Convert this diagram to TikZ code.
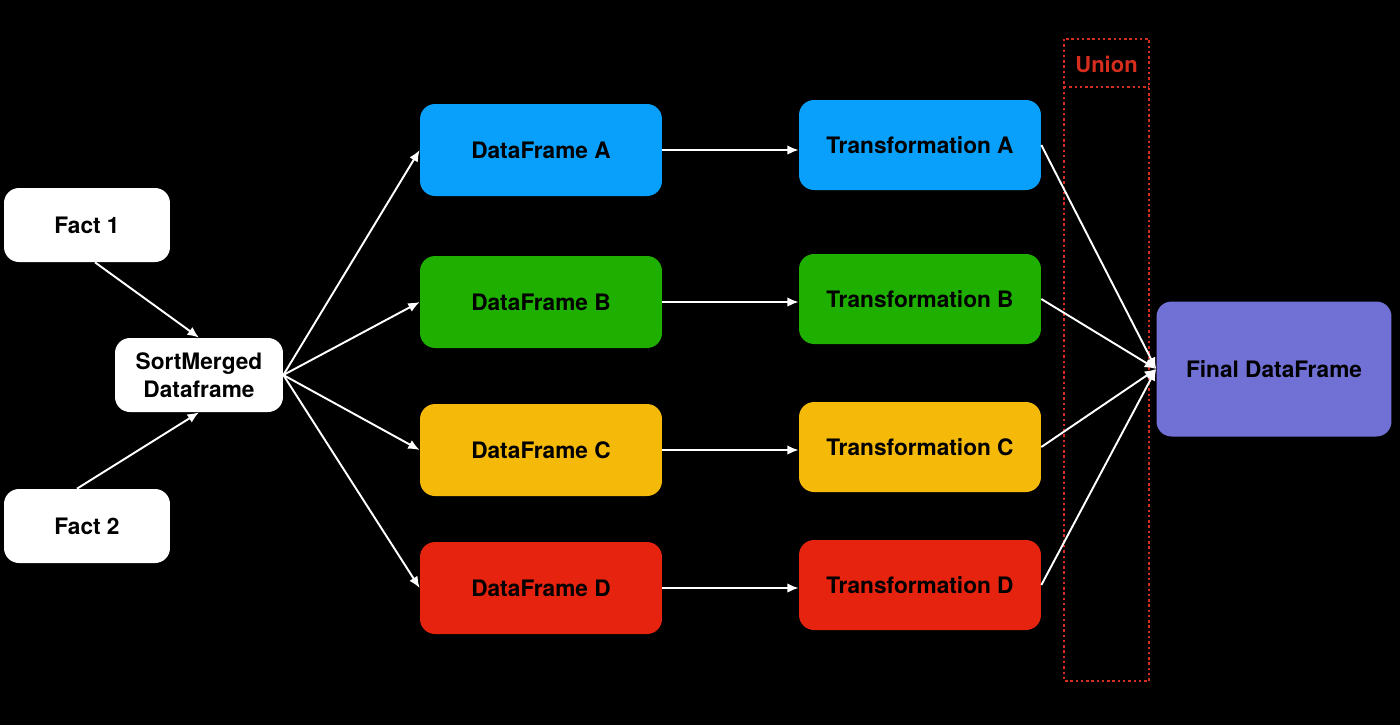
\documentclass[tikz,border=0pt]{standalone}
\usepackage{fontspec}
\setmainfont{TeX Gyre Heros}
\usetikzlibrary{positioning,arrows.meta}
\definecolor{bleu}{RGB}{8,160,250}
\definecolor{vert}{RGB}{30,175,0}
\definecolor{jaune}{RGB}{245,185,10}
\definecolor{rouge}{RGB}{230,35,15}
\definecolor{violet}{RGB}{112,112,213}
\definecolor{union}{RGB}{215,45,30}
\begin{document}
\begin{tikzpicture}[x=0.02cm,y=-0.02cm]
\tikzset{
	boite/.style={rounded corners=0.3cm, align=center, font=\fontsize{12.9}{16}\selectfont\bfseries, text=black},
	fait/.style={boite, fill=white, minimum width=3.32cm, minimum height=1.48cm},
	df/.style={boite, minimum width=4.84cm, minimum height=1.84cm},
	tr/.style={boite, minimum width=4.84cm, minimum height=1.8cm},
	fleche/.style={white, line width=1.1pt, -{Latex[length=6.5pt,width=5.5pt]}},
	pointille/.style={union, line width=1.5pt, dash pattern=on 1.4pt off 1.6pt}
}
  % fond noir
  \fill[black] (0,0) rectangle (1400,725);

  % les sources
  \node[fait] (fact1) at (87,225) {Fact 1};
  \node[fait] (fact2) at (87,526) {Fact 2};
  \node[fait, minimum width=3.36cm] (sm) at (199,375) {SortMerged\\Dataframe};

  % les dataframes
  \node[df, fill=bleu]  (dfa) at (541,150) {DataFrame A};
  \node[df, fill=vert]  (dfb) at (541,302) {DataFrame B};
  \node[df, fill=jaune] (dfc) at (541,450) {DataFrame C};
  \node[df, fill=rouge] (dfd) at (541,588) {DataFrame D};

  \node[tr, fill=bleu]  (tra) at (920,145) {Transformation A};
  \node[tr, fill=vert]  (trb) at (920,299) {Transformation B};
  \node[tr, fill=jaune] (trc) at (920,447) {Transformation C};
  \node[tr, fill=rouge] (trd) at (920,585) {Transformation D};

  \node[boite, fill=violet, minimum width=4.7cm, minimum height=2.7cm] (final) at (1274,369) {Final DataFrame};

  % la zone union
  \draw[pointille] (1064,39) rectangle (1149,681);
  \draw[pointille] (1064,87) -- (1149,87);
  \node[text=union, font=\fontsize{12.5}{15}\selectfont\bfseries] (union) at (1106.5,64) {Union};

  % les flèches
  \draw[fleche] (fact1.south) ++(8,0) -- (sm.north);
  \draw[fleche] (fact2.north) ++(-10,0) -- (sm.south);
  \foreach \d in {dfa,dfb,dfc,dfd}
    \draw[fleche] (sm.east) -- (\d.west);
  \draw[fleche] (dfa) -- (tra.west |- dfa);
  \draw[fleche] (dfb) -- (trb.west |- dfb);
  \draw[fleche] (dfc) -- (trc.west |- dfc);
  \draw[fleche] (dfd) -- (trd.west |- dfd);
  \foreach \t in {tra,trb,trc,trd}
    \draw[fleche] (\t.east) -- (final.west);
\end{tikzpicture}
\end{document}
